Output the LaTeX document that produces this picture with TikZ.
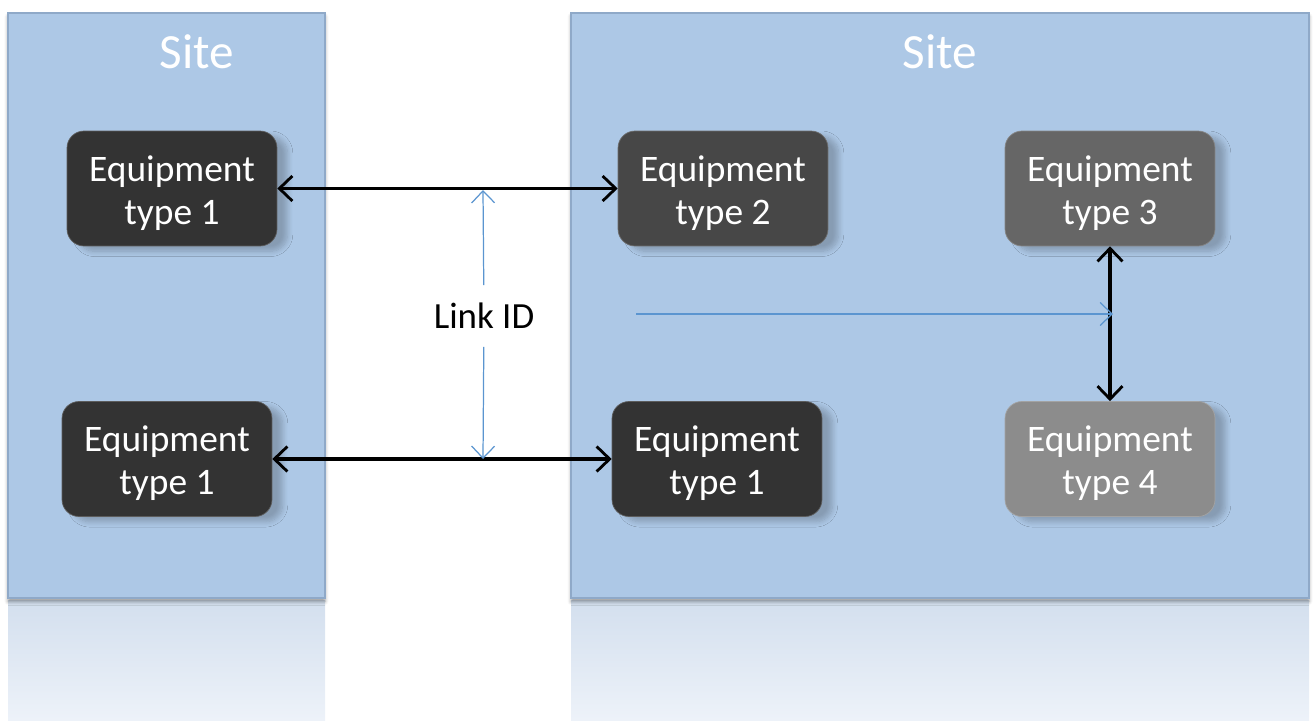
\documentclass[tikz,border=0pt]{standalone}
\usepackage{fontspec}
\setmainfont{Carlito}
\usetikzlibrary{arrows.meta,shadows.blur}

\definecolor{sitefill}{HTML}{ADC8E6}
\definecolor{siteedge}{HTML}{8FA9C8}
\definecolor{reflTop}{HTML}{D3DFEE}
\definecolor{reflBot}{HTML}{EDF2F9}
\definecolor{eqA}{HTML}{333333}
\definecolor{eqB}{HTML}{474747}
\definecolor{eqC}{HTML}{666666}
\definecolor{eqD}{HTML}{8C8C8C}
\definecolor{linkblue}{HTML}{5B95D0}

\tikzset{
  sitepanel/.style={fill=sitefill, draw=siteedge, line width=0.6pt,
    blur shadow={shadow xshift=0pt, shadow yshift=-2pt, shadow blur radius=2pt, shadow opacity=40}},
  reflection/.style={top color=reflTop, bottom color=reflBot, draw=none},
  sitelabel/.style={text=white, font=\fontsize{28}{30}\selectfont},
  equip/.style={rounded corners=0.34cm, minimum width=4.2cm, minimum height=2.3cm,
    blur shadow={shadow xshift=6pt, shadow yshift=-3pt, shadow blur radius=3pt, shadow opacity=22, shadow blur steps=8}},
  equiptext/.style={align=center, text=white, font=\fontsize{21.3}{24.2}\selectfont, yshift=-2.5pt},
  link/.style={line width=1.8pt, black,
    {Straight Barb[length=2.6mm, width=5mm, line width=1.6pt]}-{Straight Barb[length=2.6mm, width=5mm, line width=1.6pt]}},
  bluelink/.style={line width=0.7pt, linkblue},
  bluehead/.style={-{Straight Barb[length=2.4mm, width=4.6mm, line width=0.7pt]}},
  linklabel/.style={fill=white, font=\fontsize{21}{25}\selectfont, minimum height=1.22cm, inner xsep=1pt}
}

\begin{document}
\begin{tikzpicture}[x=0.02cm, y=-0.02cm]
  \useasboundingbox (0,0) rectangle (1314,720);

  % reflections under both sites
  \fill[reflection] (8,600) rectangle (325,720);
  \fill[reflection] (571,600) rectangle (1309,720);

  % site panels
  \path[sitepanel] (8,13) rectangle (325,598);
  \path[sitepanel] (571,13) rectangle (1309,598);
  \node[sitelabel] (siteL) at (197,52) {Site};
  \node[sitelabel] (siteR) at (940,52) {Site};

  % equipment
  \node[equip, fill=eqA, draw=eqA!80!white, label={[equiptext]center:Equipment\\type 1}] (l1) at (172,188.5) {};
  \node[equip, fill=eqA, draw=eqA!80!white, label={[equiptext]center:Equipment\\type 1}] (l2) at (167,459) {};
  \node[equip, fill=eqB, draw=eqB!80!white, label={[equiptext]center:Equipment\\type 2}] (r2) at (723,188.5) {};
  \node[equip, fill=eqA, draw=eqA!80!white, label={[equiptext]center:Equipment\\type 1}] (r1) at (717,459) {};
  \node[equip, fill=eqC, draw=eqC!80!white, label={[equiptext]center:Equipment\\type 3}] (t3) at (1110,188.5) {};
  \node[equip, fill=eqD, draw=eqD!80!white, label={[equiptext]center:Equipment\\type 4}] (t4) at (1110,459) {};

  % links between equipment
  \draw[link] (l1) -- (r2);
  \draw[link] (l2) -- (r1);
  \draw[link] (t3) -- (t4);

  % link ID dimension
  \coordinate (lkTop) at (483,190);
  \coordinate (lkBot) at (483,459);
  \node[linklabel] (lk) at (484,316) {Link ID};
  \draw[bluelink, bluehead] (lk) -- (lkTop);
  \draw[bluelink, bluehead] (lk) -- (lkBot);

  % pointer to the type 3 -- type 4 link
  \coordinate (ptStart) at (636,314);
  \coordinate (ptEnd) at (1113,314);
  \draw[bluelink, bluehead] (ptStart) -- (ptEnd);
\end{tikzpicture}
\end{document}
